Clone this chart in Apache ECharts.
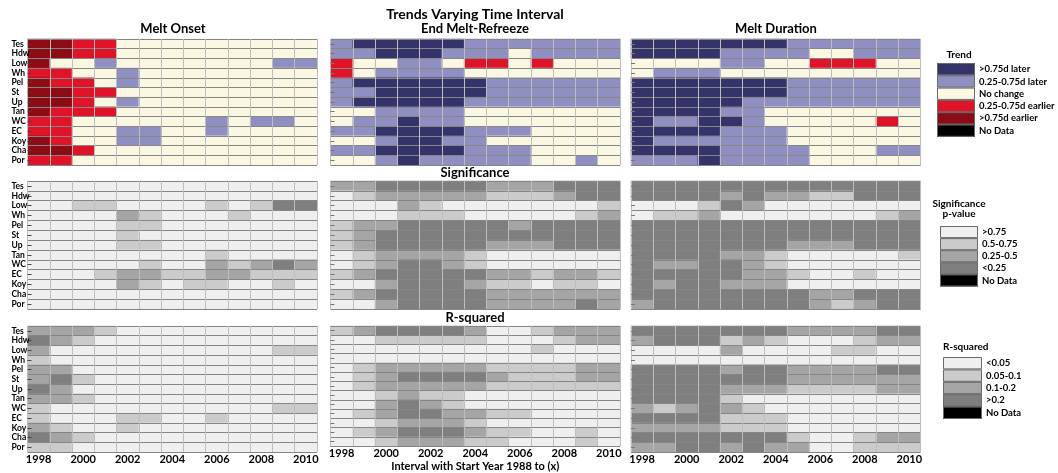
<!DOCTYPE html>
<html>
<head>
<meta charset="utf-8">
<script src="https://cdn.jsdelivr.net/npm/echarts@6/dist/echarts.min.js"></script>
<style>
  html, body { margin: 0; padding: 0; background: #ffffff; }
  #chart { width: 1058px; height: 473px; }
</style>
</head>
<body>
<div id="chart"></div>
<script>
// Stations (rows, top to bottom) and end years of the interval (columns)
const stations = ['Tes', 'Hdw', 'Low', 'Wh', 'Pel', 'St', 'Up', 'Tan', 'WC', 'EC', 'Koy', 'Cha', 'Por'];
const years = ['1998', '1999', '2000', '2001', '2002', '2003', '2004', '2005', '2006', '2007', '2008', '2009', '2010'];

// Trend classes: -2 >0.75d earlier, -1 0.25-0.75d earlier, 0 no change, 1 0.25-0.75d later, 2 >0.75d later
const meltOnsetTrend = [
  [-2,-2,-1,-1,0,0,0,0,0,0,0,0,0],
  [-2,-2,-1,-1,0,0,0,0,0,0,0,0,0],
  [-2,0,0,1,0,0,0,0,0,0,0,1,1],
  [-1,-1,0,0,1,0,0,0,0,0,0,0,0],
  [-2,-1,-1,0,1,0,0,0,0,0,0,0,0],
  [-2,-2,-1,-1,0,0,0,0,0,0,0,0,0],
  [-2,-2,-1,0,1,0,0,0,0,0,0,0,0],
  [-2,-1,-1,-1,0,0,0,0,0,0,0,0,0],
  [-1,-1,0,0,0,0,0,0,1,0,1,1,0],
  [-1,-1,0,0,1,1,0,0,1,0,0,0,0],
  [-2,-1,0,0,1,1,0,0,0,0,0,0,0],
  [-2,-2,-1,0,0,0,0,0,0,0,0,0,0],
  [-1,-1,0,0,0,0,0,0,0,0,0,0,0]
];
const endMeltTrend = [
  [1,2,2,2,2,2,1,1,1,1,1,1,1],
  [1,1,2,2,2,1,1,1,0,1,1,1,1],
  [-1,0,0,1,1,0,-1,-1,0,-1,0,0,0],
  [-1,0,1,1,1,1,0,0,0,0,0,0,0],
  [1,2,2,2,2,2,2,1,1,1,1,1,1],
  [1,1,2,2,2,2,2,1,1,1,1,1,1],
  [1,2,2,2,2,2,1,1,1,1,1,1,1],
  [0,0,1,1,1,1,0,0,0,0,0,0,0],
  [0,1,1,2,1,1,0,0,0,0,0,0,0],
  [1,1,2,2,2,2,1,1,1,0,0,0,0],
  [0,0,1,2,2,1,1,0,0,0,0,0,0],
  [1,1,2,2,2,2,1,1,1,0,0,0,0],
  [0,0,1,2,1,1,1,1,1,0,0,1,0]
];
const meltDurationTrend = [
  [2,2,2,2,2,2,2,1,1,1,1,1,1],
  [2,2,2,2,1,1,1,1,0,0,1,1,1],
  [0,0,0,0,1,1,0,0,-1,-1,-1,0,0],
  [0,1,1,1,0,0,0,0,0,0,0,0,0],
  [2,2,2,2,2,2,2,1,1,1,1,1,1],
  [2,2,2,2,2,2,2,1,1,1,1,1,1],
  [2,2,2,2,2,1,1,1,1,1,1,1,1],
  [2,2,2,2,1,1,0,0,0,0,0,0,0],
  [2,1,1,2,2,1,0,0,0,0,0,-1,0],
  [2,2,2,2,1,1,1,0,0,0,0,0,0],
  [2,1,1,1,1,1,1,0,0,0,0,0,0],
  [2,2,2,2,1,1,1,1,0,0,0,1,1],
  [1,1,1,2,1,1,1,1,0,0,0,0,0]
];

// Significance classes: 0 p>0.75, 1 0.5-0.75, 2 0.25-0.5, 3 p<0.25
const meltOnsetSig = [
  [0,0,0,0,0,0,0,0,0,0,0,0,0],
  [0,0,0,0,0,0,0,0,0,0,0,0,0],
  [0,0,1,1,0,0,0,0,1,0,1,3,3],
  [0,0,0,0,2,1,0,0,0,1,0,0,0],
  [0,0,0,0,1,1,0,0,0,0,0,0,0],
  [0,0,0,0,1,0,0,0,0,0,0,0,0],
  [0,0,0,0,1,1,0,0,0,0,0,0,0],
  [0,0,0,0,0,0,0,0,1,0,0,0,0],
  [0,0,0,0,0,1,0,0,2,1,2,3,2],
  [0,0,0,1,2,2,1,1,2,2,1,1,1],
  [0,0,0,0,2,1,0,1,1,0,0,1,0],
  [0,0,0,0,0,0,0,0,0,0,0,0,0],
  [0,0,0,0,0,0,0,0,0,0,0,0,0]
];
const endMeltSig = [
  [2,2,3,3,3,3,3,2,2,2,3,3,3],
  [0,1,2,2,2,2,2,1,1,1,2,3,3],
  [0,0,0,2,1,0,0,0,0,0,0,0,1],
  [0,0,0,1,1,1,0,0,0,0,0,1,2],
  [1,2,2,3,3,3,3,3,2,3,3,3,3],
  [1,2,3,3,3,3,3,3,3,3,3,3,3],
  [1,2,3,3,3,3,3,2,2,2,3,3,3],
  [0,1,2,2,2,2,1,0,0,0,0,0,0],
  [0,1,2,3,3,2,1,0,0,0,0,0,0],
  [1,2,3,3,3,3,3,2,2,1,2,2,1],
  [0,0,2,3,3,3,2,1,1,0,1,1,0],
  [1,2,3,3,3,3,3,2,2,2,2,2,2],
  [0,0,2,3,3,3,3,2,2,2,2,3,2]
];
const meltDurationSig = [
  [3,3,3,3,3,3,3,3,3,3,3,3,3],
  [3,3,3,3,2,3,2,2,1,1,3,3,3],
  [0,0,0,1,3,2,0,0,0,0,0,0,0],
  [0,1,1,2,0,0,0,0,0,0,0,1,2],
  [3,3,3,3,3,3,3,3,3,3,3,3,3],
  [3,3,3,3,3,3,3,3,3,3,3,3,3],
  [3,3,3,3,3,3,3,2,2,2,3,3,3],
  [3,3,3,3,2,2,1,0,0,0,0,0,1],
  [3,2,2,3,3,2,1,0,0,0,0,0,0],
  [3,3,3,3,3,2,2,1,0,0,1,0,0],
  [3,2,3,3,2,2,2,0,0,0,0,0,0],
  [3,3,3,3,3,3,3,3,2,2,3,3,3],
  [2,3,3,3,3,3,3,3,2,1,2,3,3]
];

// R-squared classes: 0 <0.05, 1 0.05-0.1, 2 0.1-0.2, 3 >0.2
const meltOnsetR2 = [
  [2,2,2,1,0,0,0,0,0,0,0,0,0],
  [3,2,1,0,0,0,0,0,0,0,0,0,0],
  [2,0,0,0,0,0,0,0,0,0,0,1,1],
  [1,0,0,0,0,0,0,0,0,0,0,0,0],
  [2,2,0,0,0,0,0,0,0,0,0,0,0],
  [2,3,1,0,0,0,0,0,0,0,0,0,0],
  [3,2,0,0,0,0,0,0,0,0,0,0,0],
  [2,2,1,0,0,0,0,0,0,0,0,0,0],
  [1,0,0,0,0,0,0,0,0,0,0,1,1],
  [1,0,0,0,1,1,0,0,1,0,0,0,0],
  [2,1,0,0,1,0,0,0,0,0,0,0,0],
  [3,2,1,0,0,0,0,0,0,0,0,0,0],
  [1,1,0,0,0,0,0,0,0,0,0,0,0]
];
const endMeltR2 = [
  [1,2,3,3,3,3,2,0,0,1,2,2,2],
  [0,0,1,1,1,1,1,0,0,0,1,2,2],
  [0,0,0,0,0,0,0,0,0,1,0,0,0],
  [0,0,0,0,0,0,0,0,0,0,0,0,0],
  [0,1,2,2,2,2,2,1,1,1,1,2,2],
  [0,1,2,3,3,3,3,2,1,1,1,2,2],
  [0,1,2,2,2,2,2,1,1,1,1,1,1],
  [0,0,1,2,1,1,0,0,0,0,0,0,0],
  [0,0,2,3,2,1,0,0,0,0,0,0,0],
  [0,1,2,3,3,2,2,1,1,0,0,0,0],
  [0,0,1,2,2,2,1,0,0,0,0,0,0],
  [0,1,2,3,3,3,2,1,1,0,0,1,0],
  [0,0,1,2,2,2,1,1,0,0,0,1,0]
];
const meltDurationR2 = [
  [3,3,3,3,3,3,3,2,2,2,2,3,3],
  [2,3,3,3,1,2,1,0,0,0,1,2,2],
  [0,0,0,0,2,0,0,0,0,1,1,0,0],
  [0,0,0,0,0,0,0,0,0,0,0,0,0],
  [3,3,3,3,2,3,3,2,2,2,2,3,3],
  [3,3,3,3,3,3,3,2,2,2,2,2,2],
  [3,3,3,3,2,2,2,1,1,1,1,2,2],
  [3,3,3,3,1,0,0,0,0,0,0,0,0],
  [2,1,2,3,2,1,0,0,0,0,0,0,0],
  [3,3,3,3,1,1,1,0,0,0,0,0,0],
  [2,2,2,2,1,1,1,0,0,0,0,0,0],
  [3,3,3,3,3,3,3,1,0,0,1,2,2],
  [2,2,3,3,2,3,2,2,0,0,1,1,1]
];

const panelTitles = ['Melt Onset', 'End Melt-Refreeze', 'Melt Duration'];
const rowTitles = ['Significance', 'R-squared'];

// legend classes (ECharts lists value pieces by value, so the No Data code sits at the far end)
const trendLegend = [
  { value: 2, label: '>0.75d later', color: '#34346b' },
  { value: 1, label: '0.25-0.75d later', color: '#8f8fc2' },
  { value: 0, label: 'No change', color: '#faf8e3' },
  { value: -1, label: '0.25-0.75d earlier', color: '#e01429' },
  { value: -2, label: '>0.75d earlier', color: '#8c0c15' },
  { value: -9, label: 'No Data', color: '#000000' }
];
const sigLegend = [
  { value: 0, label: '>0.75', color: '#efefef' },
  { value: 1, label: '0.5-0.75', color: '#cbcbcb' },
  { value: 2, label: '0.25-0.5', color: '#a5a5a5' },
  { value: 3, label: '<0.25', color: '#7f7f7f' },
  { value: 9, label: 'No Data', color: '#000000' }
];
const r2Legend = [
  { value: 0, label: '<0.05', color: '#efefef' },
  { value: 1, label: '0.05-0.1', color: '#cbcbcb' },
  { value: 2, label: '0.1-0.2', color: '#a5a5a5' },
  { value: 3, label: '>0.2', color: '#7f7f7f' },
  { value: 9, label: 'No Data', color: '#000000' }
];

const FONT = 'Lato, "Open Sans", sans-serif';

// panel grid: rows = trend / significance / r-squared, cols = onset / end melt / duration
const panels = [
  [meltOnsetTrend, endMeltTrend, meltDurationTrend],
  [meltOnsetSig, endMeltSig, meltDurationSig],
  [meltOnsetR2, endMeltR2, meltDurationR2]
];
const colLeft = [27.5, 330.5, 631];
const panelWidth = 289.5;
const rowTop = [39, 181, 326];
const rowHeight = [126, 128, 126];

const grids = [], xAxes = [], yAxes = [], series = [];
panels.forEach((rowSets, r) => {
  rowSets.forEach((matrix, c) => {
    const gi = r * 3 + c;
    grids.push({ left: colLeft[c], top: rowTop[r], width: panelWidth, height: rowHeight[r], containLabel: false });
    xAxes.push({
      type: 'category', gridIndex: gi, data: years, z: 5,
      axisLine: { show: false },
      axisTick: { show: false, interval: 0 },
      axisLabel: {
        show: r === 2, interval: 1, margin: 2,
        fontSize: 11, fontWeight: 'bold', color: '#000', fontFamily: FONT
      },
      splitLine: { show: true, interval: 0, lineStyle: { color: '#bdbdbd', width: 1 } },
      name: (r === 2 && c === 1) ? 'Interval with Start Year 1988 to (x)' : '',
      nameLocation: 'middle', nameGap: 15,
      nameTextStyle: { fontSize: 11, fontWeight: 'bold', color: '#000', fontFamily: FONT }
    });
    yAxes.push({
      type: 'category', gridIndex: gi, data: stations, inverse: true, z: 5,
      axisLine: { show: false },
      axisTick: { show: true, inside: true, length: 4, interval: 0, alignWithLabel: true,
        lineStyle: { color: c === 0 ? '#444' : '#777', width: 1 } },
      axisLabel: {
        show: c === 0, interval: 0, align: 'left', margin: 16,
        fontSize: 8.5, fontWeight: 'bold', color: '#000', fontFamily: FONT
      },
      splitLine: { show: true, interval: 0, lineStyle: { color: '#858585', width: 1 } }
    });
    const data = [];
    matrix.forEach((vals, yi) => vals.forEach((v, xi) => data.push([xi, yi, v])));
    series.push({
      type: 'heatmap', xAxisIndex: gi, yAxisIndex: gi, data: data,
      itemStyle: { borderWidth: 0 },
      emphasis: { disabled: true }
    });
  });
});

// vertical piecewise legend, boxes stacked without gaps, labels to the right
function piecewise(seriesIdx, pieces, left, top, itemWidth, itemHeight, inverse) {
  return {
    type: 'piecewise', seriesIndex: seriesIdx, dimension: 2, orient: 'vertical',
    inverse: inverse, align: 'left', left: left, top: top, padding: 0,
    itemWidth: itemWidth, itemHeight: itemHeight,
    itemGap: 0, itemSymbol: 'rect', textGap: 4, selectedMode: false, hoverLink: false,
    textStyle: { fontSize: 9.5, color: '#000', fontFamily: FONT, fontWeight: 'bold' },
    pieces: pieces.map(p => ({ value: p.value, label: p.label, color: p.color }))
  };
}

const textEl = (text, x, y, size, align) => ({
  type: 'text', x: x, y: y, silent: true,
  style: { text: text, font: 'bold ' + size + 'px ' + FONT, fill: '#000',
    textAlign: align || 'center', textVerticalAlign: 'middle' }
});

// thin outlines around the legend swatches
const legendBoxes = [
  { x: 937, y: 63, w: 38, h: 12.3, n: trendLegend.length },
  { x: 940, y: 226, w: 38, h: 12.1, n: sigLegend.length },
  { x: 943, y: 357, w: 39, h: 12.4, n: r2Legend.length }
];
const outlineEls = [];
legendBoxes.forEach(b => {
  for (let i = 0; i < b.n; i++) {
    outlineEls.push({
      type: 'rect', silent: true, z: 100,
      shape: { x: b.x + 0.5, y: b.y + i * b.h + 0.5, width: b.w - 1, height: b.h - 1 },
      style: { fill: null, stroke: '#6a6a6a', lineWidth: 1 }
    });
  }
});

const graphics = [
  textEl('Trends Varying Time Interval', 475, 14, 14),
  textEl(panelTitles[0], 173, 29, 13),
  textEl(panelTitles[1], 475, 29, 13),
  textEl(panelTitles[2], 776, 29, 13),
  textEl(rowTitles[0], 475, 173, 13),
  textEl(rowTitles[1], 475, 318, 13),
  textEl('Trend', 959, 55, 10),
  textEl('Significance', 959, 204, 10),
  textEl('p-value', 959, 214, 10),
  textEl('R-squared', 943, 347, 10, 'left')
].concat(outlineEls);

const chart = echarts.init(document.getElementById('chart'), null, { renderer: 'canvas' });
chart.setOption({
  animation: false,
  backgroundColor: '#ffffff',
  grid: grids,
  xAxis: xAxes,
  yAxis: yAxes,
  series: series,
  visualMap: [
    piecewise([0, 1, 2], trendLegend, 937, 63, 38, 12.3, false),
    piecewise([3, 4, 5], sigLegend, 940, 226, 38, 12.1, true),
    piecewise([6, 7, 8], r2Legend, 943, 357, 39, 12.4, true)
  ],
  graphic: graphics
});
</script>
</body>
</html>
